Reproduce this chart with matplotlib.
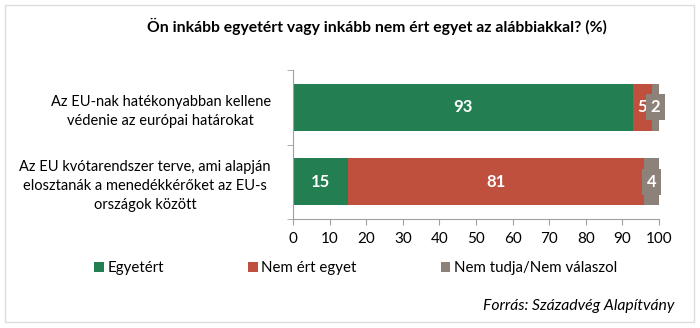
import matplotlib.pyplot as plt
from matplotlib.patches import Rectangle

plt.rcParams['font.family'] = ['Lato', 'DejaVu Sans']

# data
kategoriak = ["Az EU-nak hatékonyabban kellene\nvédenie az európai határokat",
              "Az EU kvótarendszer terve, ami alapján\nelosztanák a menedékkérőket az EU-s\nországok között"]
egyetert = [93, 15]
nem_ert_egyet = [5, 81]
nem_tudja = [2, 4]
sorozatok = ["Egyetért", "Nem ért egyet", "Nem tudja/Nem válaszol"]
szinek = ['#237F52', '#C0503E', '#8C827A']

fig = plt.figure(figsize=(7, 3.28), dpi=100)
ax = fig.add_axes([0.4186, 0.3323, 0.5228, 0.4543])

ypos = [1, 0]
bal = [0, 0]
for ertekek, nev, szin in zip([egyetert, nem_ert_egyet, nem_tudja], sorozatok, szinek):
    bars = ax.barh(ypos, ertekek, left=bal, height=0.63, color=szin, label=nev)
    for b, v in zip(bars, ertekek):
        cx = b.get_x() + b.get_width() / 2
        cy = b.get_y() + b.get_height() / 2
        if nev == sorozatok[2]:
            ax.text(cx, cy, str(v), ha='center', va='center', color='white',
                    fontsize=12, fontweight='bold',
                    bbox=dict(boxstyle='square,pad=0.3', fc=szin, ec='none'))
        else:
            ax.text(cx, cy, str(v), ha='center', va='center', color='white',
                    fontsize=12, fontweight='bold')
    bal = [a + b for a, b in zip(bal, ertekek)]

ax.set_xlim(0, 100)
ax.set_ylim(-0.5, 1.5)
ax.set_xticks(range(0, 101, 10))
ax.set_yticks(ypos)
ax.set_yticklabels(kategoriak, multialignment='center', fontsize=10.5, linespacing=1.45)
ax.tick_params(axis='y', length=0, pad=16)
ax.set_yticks([-0.5, 0.5, 1.5], minor=True)
ax.tick_params(axis='y', which='minor', length=4, color='#A0A0A0')
ax.tick_params(axis='x', length=4, color='#A0A0A0', labelsize=11, pad=5)
for s in ['top', 'right']:
    ax.spines[s].set_visible(False)
ax.spines['left'].set_color('#A0A0A0')
ax.spines['bottom'].set_color('#A0A0A0')

fig.text(0.539, 0.918, "Ön inkább egyetért vagy inkább nem ért egyet az alábbiakkal? (%)",
         ha='center', va='center', fontsize=11.3, fontweight='bold')

fig.legend(loc='center', bbox_to_anchor=(0.508, 0.183), ncol=3, frameon=False,
           fontsize=10.8, handlelength=0.65, handleheight=0.65, handletextpad=0.25,
           columnspacing=5.6)

fig.text(0.964, 0.067, "Forrás: Századvég Alapítvány", ha='right', va='center',
         fontsize=11.3, style='italic')

fig.patches.append(Rectangle((0.007, 0.018), 0.984, 0.967, transform=fig.transFigure,
                             fill=False, ec='#DDDDDD', lw=1))

fig.savefig('out.png', dpi=100)
